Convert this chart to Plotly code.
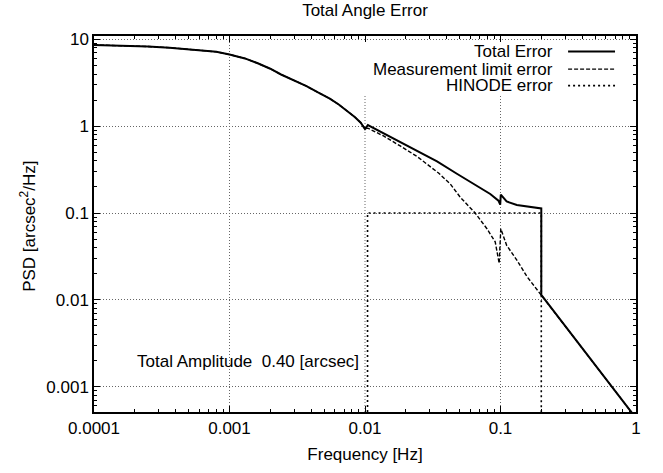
import plotly.graph_objects as go

# ---------------- data ----------------
# shared low-frequency part (total == measurement limit below 0.01 Hz)
freq_low = [1e-4, 1.6e-4, 2.5e-4, 3.6e-4, 5e-4, 6.5e-4, 8e-4, 1e-3, 1.3e-3, 1.6e-3,
            2.0e-3, 2.4e-3, 3.0e-3, 3.7e-3, 4.5e-3, 5.5e-3, 6.4e-3, 7.4e-3, 8.4e-3,
            9.3e-3, 0.0100]
psd_low = [8.65, 8.5, 8.3, 8.05, 7.75, 7.5, 7.2, 6.7, 6.05, 5.35,
           4.6, 3.95, 3.35, 2.9, 2.45, 2.08, 1.78, 1.5, 1.28,
           1.1, 0.93]

freq_total_hi = [0.0105, 0.018, 0.034, 0.048, 0.067, 0.084, 0.0966, 0.0995, 0.1005,
                 0.111, 0.132, 0.166, 0.2, 0.2, 0.3, 0.5, 0.7, 1.0]
psd_total_hi = [1.03, 0.66, 0.393, 0.282, 0.204, 0.166, 0.139, 0.125, 0.163,
                0.136, 0.124, 0.117, 0.113, 0.0114, 0.00501, 0.00177, 0.000896, 0.000434]

freq_meas_hi = [0.0105, 0.0137, 0.0182, 0.0242, 0.0349, 0.0426, 0.0505, 0.065, 0.0794,
                0.0914, 0.0978, 0.1005, 0.111, 0.132, 0.157, 0.2, 0.3, 0.5, 0.7, 1.0]
psd_meas_hi = [0.95, 0.773, 0.593, 0.449, 0.289, 0.216, 0.152, 0.100, 0.066,
               0.0466, 0.0263, 0.066, 0.0425, 0.0287, 0.0185, 0.0114, 0.00501,
               0.00177, 0.000896, 0.000434]

freq_hinode = [0.01044, 0.01044, 0.2, 0.2]
psd_hinode = [1e-6, 0.1, 0.1, 1e-6]

x_ticks = [1e-4, 1e-3, 1e-2, 1e-1, 1]
x_labels = ["0.0001", "0.001", "0.01", "0.1", "1"]
y_ticks = [1e-3, 1e-2, 1e-1, 1, 10]
y_labels = ["0.001", "0.01", "0.1", "1", "10"]

series_names = ["Total Error", "Measurement limit error", "HINODE error"]
title_text = "Total Angle Error"
x_title = "Frequency [Hz]"
y_title = "PSD [arcsec<sup>2</sup>/Hz]"
amp_text = "Total Amplitude \u00a00.40 [arcsec]"

# ---------------- figure ----------------
FONT = "Liberation Sans, Arial, Helvetica, sans-serif"
W, H = 663, 473
ML, MR, MT, MB = 94, 27, 36, 58
X_RANGE = [-4, 0]
Y_RANGE = [-3.292, 1.040]

fig = go.Figure()
fig.add_trace(go.Scatter(x=freq_low + freq_total_hi, y=psd_low + psd_total_hi,
                         mode="lines", name=series_names[0],
                         line=dict(color="black", width=2)))
fig.add_trace(go.Scatter(x=freq_low + freq_meas_hi, y=psd_low + psd_meas_hi,
                         mode="lines", name=series_names[1],
                         line=dict(color="black", width=1.4, dash="4px,2px")))
fig.add_trace(go.Scatter(x=freq_hinode, y=psd_hinode,
                         mode="lines", name=series_names[2],
                         line=dict(color="black", width=1.6, dash="2px,3px")))

grid_style = dict(color="#666666", width=1, dash="1px,2px")

# vertical grid lines (interrupted by the key area at the top right)
key_bottom = 0.844
shapes = [
    dict(type="line", xref="x", yref="paper", x0=1e-3, x1=1e-3, y0=0, y1=1,
         line=grid_style, layer="below"),
    dict(type="line", xref="x", yref="paper", x0=1e-2, x1=1e-2, y0=0, y1=key_bottom,
         line=grid_style, layer="below"),
    dict(type="line", xref="x", yref="paper", x0=1e-1, x1=1e-1, y0=0, y1=key_bottom,
         line=grid_style, layer="below"),
]

# manual key (text right aligned, sample on the right, gnuplot style)
key_rows = [0.9585, 0.9120, 0.8679]
key_styles = [dict(color="black", width=2),
              dict(color="black", width=1.4, dash="4px,2px"),
              dict(color="black", width=1.6, dash="2px,3px")]
annotations = []
for name, yy, st in zip(series_names, key_rows, key_styles):
    annotations.append(dict(text=name, xref="paper", yref="paper", x=0.8507, y=yy,
                            xanchor="right", yanchor="middle", showarrow=False,
                            font=dict(family=FONT, size=17, color="black")))
    shapes.append(dict(type="line", xref="paper", yref="paper", x0=0.8747, x1=0.9613,
                       y0=yy, y1=yy, line=st))

annotations.append(dict(text=amp_text, xref="paper", yref="paper", x=0.0765, y=0.1334,
                        xanchor="left", yanchor="middle", showarrow=False,
                        font=dict(family=FONT, size=17, color="black")))
# y axis title
annotations.append(dict(text=y_title, xref="paper", yref="paper", x=-0.1218, y=0.495,
                        xanchor="center", yanchor="middle", textangle=-90, showarrow=False,
                        font=dict(family=FONT, size=17, color="black")))

fig.update_layout(
    width=W, height=H,
    margin=dict(l=ML, r=MR, t=MT, b=MB, pad=0),
    paper_bgcolor="white", plot_bgcolor="white",
    font=dict(family=FONT, size=17, color="black"),
    showlegend=False,
    title=dict(text=title_text, x=0.5, xref="paper", y=1 - 10 / H, yref="container",
               xanchor="center", yanchor="middle",
               font=dict(family=FONT, size=17, color="black")),
    shapes=shapes,
    annotations=annotations,
)

minor_style = dict(dtick="D1", ticks="inside", ticklen=3, tickwidth=1,
                   tickcolor="black", showgrid=False)

fig.update_xaxes(
    type="log", range=X_RANGE, tickmode="array", tickvals=x_ticks, ticktext=x_labels,
    ticks="inside", ticklen=6, tickwidth=1, tickcolor="black", mirror="allticks",
    showline=True, linecolor="black", linewidth=1.5, showgrid=False, zeroline=False,
    minor=minor_style,
    title=dict(text=x_title, standoff=11, font=dict(family=FONT, size=17)),
)
fig.update_yaxes(
    type="log", range=Y_RANGE, tickmode="array", tickvals=y_ticks, ticktext=y_labels,
    ticks="inside", ticklen=6, tickwidth=1, tickcolor="black", mirror="allticks",
    showline=True, linecolor="black", linewidth=1.5, zeroline=False,
    showgrid=True, gridcolor="#666666", gridwidth=1, griddash="1px,2px",
    minor=minor_style,
)

fig.write_html("out.html")
